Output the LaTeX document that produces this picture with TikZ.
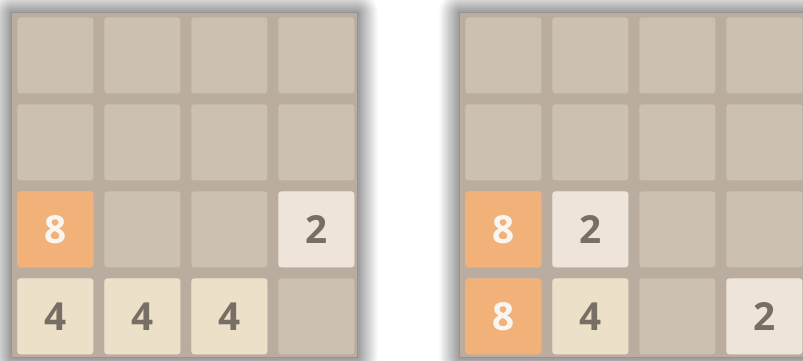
\documentclass[tikz,border=0pt]{standalone}
\usepackage{fontspec}
\setsansfont{Open Sans}
\usepackage{tikz}
\usetikzlibrary{shadows.blur}
\definecolor{boardbg}{RGB}{186,172,159}
\definecolor{cellbg}{RGB}{204,192,179}
\definecolor{tiletwo}{RGB}{238,228,218}
\definecolor{tilefour}{RGB}{237,224,200}
\definecolor{tileeight}{RGB}{242,177,121}
\definecolor{darktext}{RGB}{119,110,101}
\definecolor{lighttext}{RGB}{249,246,242}

\begin{document}
\begin{tikzpicture}[x=0.02cm,y=-0.02cm,
    tile/.style={anchor=north west,minimum size=1.52cm,inner sep=0pt,
      rounded corners=0.06cm,text=darktext,
      font=\sffamily\bfseries\fontsize{22}{22}\selectfont},
    cell/.style={tile,fill=cellbg},
    boardshadow/.style={blur shadow={shadow xshift=0pt,shadow yshift=0pt,
      shadow blur radius=12pt,shadow blur steps=12,shadow opacity=85,
      shadow scale=1.0}}]
    \useasboundingbox (0,0) rectangle (803,361);
    % boards
    \fill[boardbg,boardshadow] (12,13) rectangle (357,357);
    \fill[boardbg,boardshadow] (460,13) rectangle (812,357);
    % empty slots
    \foreach \r in {0,...,3}
      \foreach \c in {0,...,3}{
        \node[cell] (L\r\c) at ({17+87*\c},{17+87*\r}) {};
        \node[cell] (R\r\c) at ({465+87*\c},{17+87*\r}) {};
      }
    % left board
    \node[tile,fill=tileeight,text=lighttext] (la) at (L20.north west) {8};
    \node[tile,fill=tiletwo] (lb) at (L23.north west) {2};
    \node[tile,fill=tilefour] (lc) at (L30.north west) {4};
    \node[tile,fill=tilefour] (ld) at (L31.north west) {4};
    \node[tile,fill=tilefour] (le) at (L32.north west) {4};
    % right board
    \node[tile,fill=tileeight,text=lighttext] (ra) at (R20.north west) {8};
    \node[tile,fill=tiletwo] (rb) at (R21.north west) {2};
    \node[tile,fill=tileeight,text=lighttext] (rc) at (R30.north west) {8};
    \node[tile,fill=tilefour] (rd) at (R31.north west) {4};
    \node[tile,fill=tiletwo] (re) at (R33.north west) {2};
\end{tikzpicture}
\end{document}
